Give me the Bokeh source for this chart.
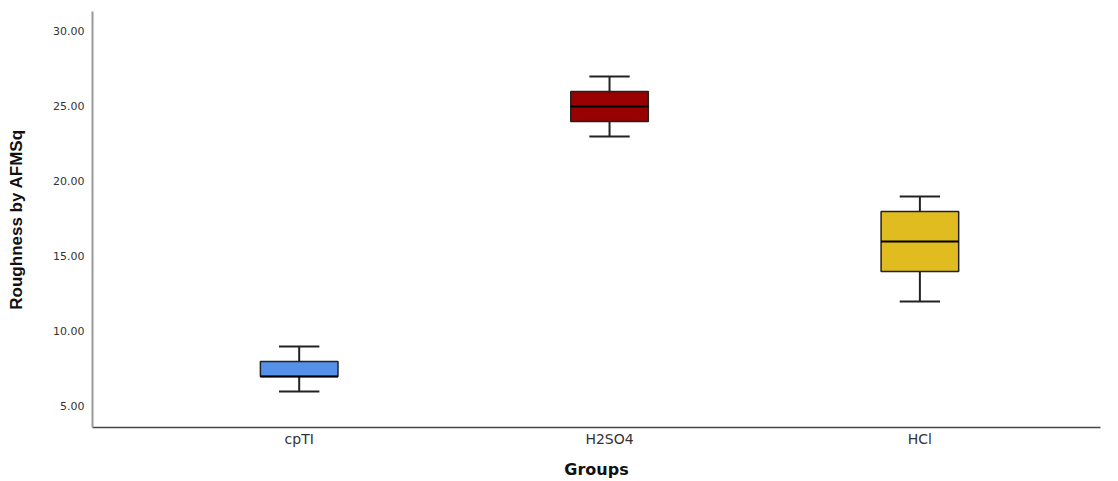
from bokeh.plotting import figure
from bokeh.models import ColumnDataSource, Range1d, FixedTicker, PrintfTickFormatter
from bokeh.embed import file_html
from bokeh.resources import INLINE
import numpy as np

groups = ["cpTI", "H2SO4", "HCl"]
whisker_low = [6.0, 23.0, 12.0]
q1 = [7.0, 24.0, 14.0]
median = [7.0, 25.0, 16.0]
q3 = [8.0, 26.0, 18.0]
whisker_high = [9.0, 27.0, 19.0]
colors = ["#5591E8", "#990000", "#E0BC20"]
y_ticks = [5, 10, 15, 20, 25, 30]

pos = np.arange(len(groups), dtype=float)
box_w = 0.25
cap_w = 0.13

src = ColumnDataSource(dict(
    x=pos, q1=q1, q3=q3, med=median, lo=whisker_low, hi=whisker_high, color=colors,
    bx0=pos - box_w / 2, bx1=pos + box_w / 2,
    cx0=pos - cap_w / 2, cx1=pos + cap_w / 2,
))

p = figure(width=1110, height=481, output_backend="svg", toolbar_location=None,
           x_range=Range1d(-0.666, 2.582), y_range=Range1d(3.596, 31.33),
           min_border_left=92, min_border_right=10, min_border_top=11, min_border_bottom=54)
p.outline_line_color = None
p.xgrid.grid_line_color = None
p.ygrid.grid_line_color = None
p.background_fill_color = "white"

# whiskers
p.segment(x0="x", y0="q3", x1="x", y1="hi", source=src, line_color="#222222", line_width=2)
p.segment(x0="x", y0="q1", x1="x", y1="lo", source=src, line_color="#222222", line_width=2)
p.segment(x0="cx0", y0="hi", x1="cx1", y1="hi", source=src, line_color="#222222", line_width=2)
p.segment(x0="cx0", y0="lo", x1="cx1", y1="lo", source=src, line_color="#222222", line_width=2)
# boxes
p.vbar(x="x", width=box_w, bottom="q1", top="q3", source=src, fill_color="color",
       line_color="#222222", line_width=1.5)
# medians
p.segment(x0="bx0", y0="med", x1="bx1", y1="med", source=src, line_color="#000000", line_width=2)

# axes
p.xaxis.ticker = FixedTicker(ticks=list(pos))
p.xaxis.major_label_overrides = {float(i): g for i, g in enumerate(groups)}
p.xaxis.major_label_overrides.update({int(i): g for i, g in enumerate(groups)})
p.xaxis.major_tick_line_color = None
p.xaxis.minor_tick_line_color = None
p.xaxis.major_tick_out = 0
p.xaxis.major_label_standoff = 3
p.xaxis.major_label_text_font = "DejaVu Sans"
p.xaxis.major_label_text_font_size = "14px"
p.xaxis.major_label_text_color = "#333333"
p.xaxis.axis_line_color = "#444444"
p.xaxis.axis_line_width = 1.5
p.xaxis.axis_label = "Groups"
p.xaxis.axis_label_text_font = "DejaVu Sans"
p.xaxis.axis_label_text_font_style = "bold"
p.xaxis.axis_label_text_font_size = "16px"
p.xaxis.axis_label_text_color = "#111111"
p.xaxis.axis_label_standoff = 10

p.yaxis.ticker = FixedTicker(ticks=y_ticks)
p.yaxis.formatter = PrintfTickFormatter(format="%.2f")
p.yaxis.major_tick_line_color = None
p.yaxis.minor_tick_line_color = None
p.yaxis.major_tick_out = 0
p.yaxis.major_label_standoff = 8
p.yaxis.major_label_text_font = "DejaVu Sans"
p.yaxis.major_label_text_font_size = "11px"
p.yaxis.major_label_text_color = "#333333"
p.yaxis.axis_line_color = "#999999"
p.yaxis.axis_line_width = 2
p.yaxis.axis_label = "Roughness by AFMSq"
p.yaxis.axis_label_text_font = "Liberation Sans Narrow, Liberation Sans"
p.yaxis.axis_label_text_font_style = "bold"
p.yaxis.axis_label_text_font_size = "17px"
p.yaxis.axis_label_text_color = "#111111"
p.yaxis.axis_label_standoff = 24

open("out.html", "w").write(file_html(p, INLINE))
